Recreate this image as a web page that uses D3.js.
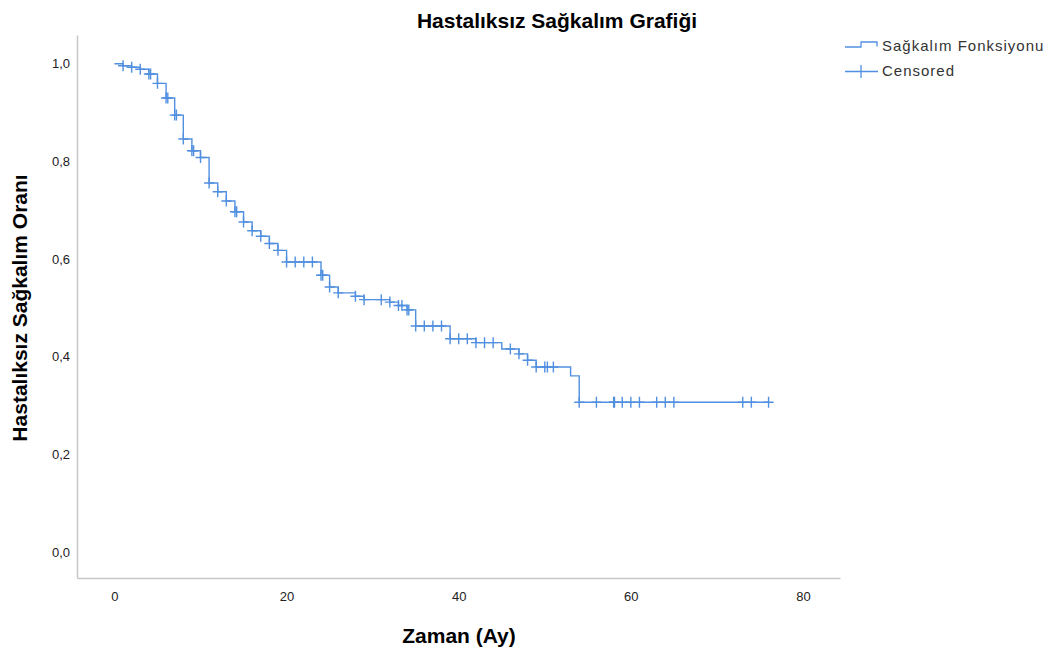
<!DOCTYPE html>
<html>
<head>
<meta charset="utf-8">
<script src="https://cdn.jsdelivr.net/npm/d3@7"></script>
<style>
  html, body { margin: 0; padding: 0; background: #fff; }
  svg { display: block; font-family: "Liberation Sans", Arial, sans-serif; }
</style>
</head>
<body>
<svg id="chart" width="1056" height="654"></svg>
<script>
// Kaplan-Meier step points: time (months) and survival just after each drop
const stepTimes = [0, 1, 2, 3, 4, 5, 6, 7, 8, 9, 10, 11, 12, 13, 14, 15, 16, 17, 18, 19, 20,
  24, 25, 26, 28, 29, 32, 33, 34, 35, 39, 42, 45, 47, 48, 49, 53, 54];
const stepSurvival = [1.0, 0.996, 0.993, 0.989, 0.979, 0.960, 0.930, 0.895, 0.846, 0.822, 0.808,
  0.756, 0.738, 0.719, 0.697, 0.676, 0.658, 0.647, 0.632, 0.618, 0.594,
  0.567, 0.543, 0.531, 0.524, 0.517, 0.512, 0.505, 0.496, 0.463, 0.437, 0.429,
  0.416, 0.406, 0.393, 0.379, 0.361, 0.307];
const lastFollowUp = 76;

// Censored observations (months)
const censorTimes = [1, 2, 3, 4, 4.2, 5, 6, 6.2, 7, 7.2, 8, 9, 9.2, 10, 11, 12, 13, 14, 14.2, 15,
  16, 17, 18, 19, 20, 21, 22, 23, 24, 24.2, 25, 26, 28, 29, 31, 32, 33, 33.4, 34, 34.2,
  35, 36, 37, 38, 39, 40, 41, 42, 43, 44, 46, 47, 48, 49, 50, 50.3, 51,
  54, 56, 58, 58.1, 59, 60, 61, 63, 64, 65, 73, 74, 76];

const xTicks = [0, 20, 40, 60, 80];
const yTicks = [0, 0.2, 0.4, 0.6, 0.8, 1.0];

const chartTitle = "Hastalıksız Sağkalım Grafiği";
const xTitle = "Zaman (Ay)";
const yTitle = "Hastalıksız Sağkalım Oranı";
const legendLabels = ["Sağkalım Fonksiyonu", "Censored"];

const lineColor = "#5190e0";
const axisColor = "#c8c8c8";
const textColor = "#222";

const svg = d3.select("#chart");
const plot = { left: 77, right: 840, top: 35, bottom: 578 };

const x = d3.scaleLinear().domain([-4.35, 84.3]).range([plot.left, plot.right]);
const y = d3.scaleLinear().domain([-0.053, 1.059]).range([plot.bottom, plot.top]);

// survival value in effect at time t
function survivalAt(t) {
  let s = stepSurvival[0];
  for (let i = 0; i < stepTimes.length; i++) {
    if (stepTimes[i] <= t + 1e-9) s = stepSurvival[i];
  }
  return s;
}

// Axes
const commaFmt = v => d3.format(".1f")(v).replace(".", ",");

const xAxis = svg.append("g")
  .attr("transform", `translate(0,${plot.bottom})`)
  .call(d3.axisBottom(x).tickValues(xTicks).tickSize(0).tickPadding(14).tickFormat(d3.format("d")));
xAxis.select(".domain").attr("stroke", axisColor).attr("stroke-width", 1.5);
xAxis.selectAll("text").attr("font-size", 13).attr("fill", textColor)
  .attr("font-family", "Liberation Sans, Arial, sans-serif");

const yAxis = svg.append("g")
  .attr("transform", `translate(${plot.left},0)`)
  .call(d3.axisLeft(y).tickValues(yTicks).tickSize(0).tickPadding(7).tickFormat(commaFmt));
yAxis.select(".domain").attr("stroke", axisColor).attr("stroke-width", 1.5);
yAxis.selectAll("text").attr("font-size", 13).attr("fill", textColor)
  .attr("font-family", "Liberation Sans, Arial, sans-serif");

// Survival step curve
const curvePoints = stepTimes.map((t, i) => [t, stepSurvival[i]]);
curvePoints.push([lastFollowUp, stepSurvival[stepSurvival.length - 1]]);

const line = d3.line()
  .x(d => x(d[0]))
  .y(d => y(d[1]))
  .curve(d3.curveStepAfter);

svg.append("path")
  .datum(curvePoints)
  .attr("fill", "none")
  .attr("stroke", lineColor)
  .attr("stroke-width", 1.4)
  .attr("d", line);

// Censor marks
const cw = 5, ch = 5.5;
svg.append("g")
  .selectAll("path")
  .data(censorTimes)
  .join("path")
  .attr("fill", "none")
  .attr("stroke", lineColor)
  .attr("stroke-width", 1.4)
  .attr("d", t => {
    const cx = x(t), cy = y(survivalAt(t));
    return `M${cx - cw},${cy}H${cx + cw}M${cx},${cy - ch}V${cy + ch}`;
  });

// Titles
svg.append("text")
  .attr("x", 557).attr("y", 28)
  .attr("text-anchor", "middle")
  .attr("font-size", 21).attr("font-weight", "bold").attr("fill", "#000")
  .text(chartTitle);

svg.append("text")
  .attr("x", 459).attr("y", 643)
  .attr("text-anchor", "middle")
  .attr("font-size", 21).attr("font-weight", "bold").attr("fill", "#000")
  .text(xTitle);

svg.append("text")
  .attr("transform", `translate(27,308) rotate(-90)`)
  .attr("text-anchor", "middle")
  .attr("font-size", 21).attr("font-weight", "bold").attr("fill", "#000")
  .text(yTitle);

// Legend
const legend = svg.append("g").attr("transform", "translate(845,0)");
legend.append("path")
  .attr("fill", "none").attr("stroke", lineColor).attr("stroke-width", 1.3)
  .attr("d", "M0,47H16V42H32V46.5");
legend.append("path")
  .attr("fill", "none").attr("stroke", lineColor).attr("stroke-width", 1.3)
  .attr("d", "M0,71.5H33M16,65V78");
legend.selectAll("text.lg")
  .data(legendLabels)
  .join("text")
  .attr("class", "lg")
  .attr("x", 37)
  .attr("y", (d, i) => 51 + i * 25)
  .attr("font-size", 15)
  .attr("letter-spacing", 1)
  .attr("fill", "#333")
  .text(d => d);
</script>
</body>
</html>
